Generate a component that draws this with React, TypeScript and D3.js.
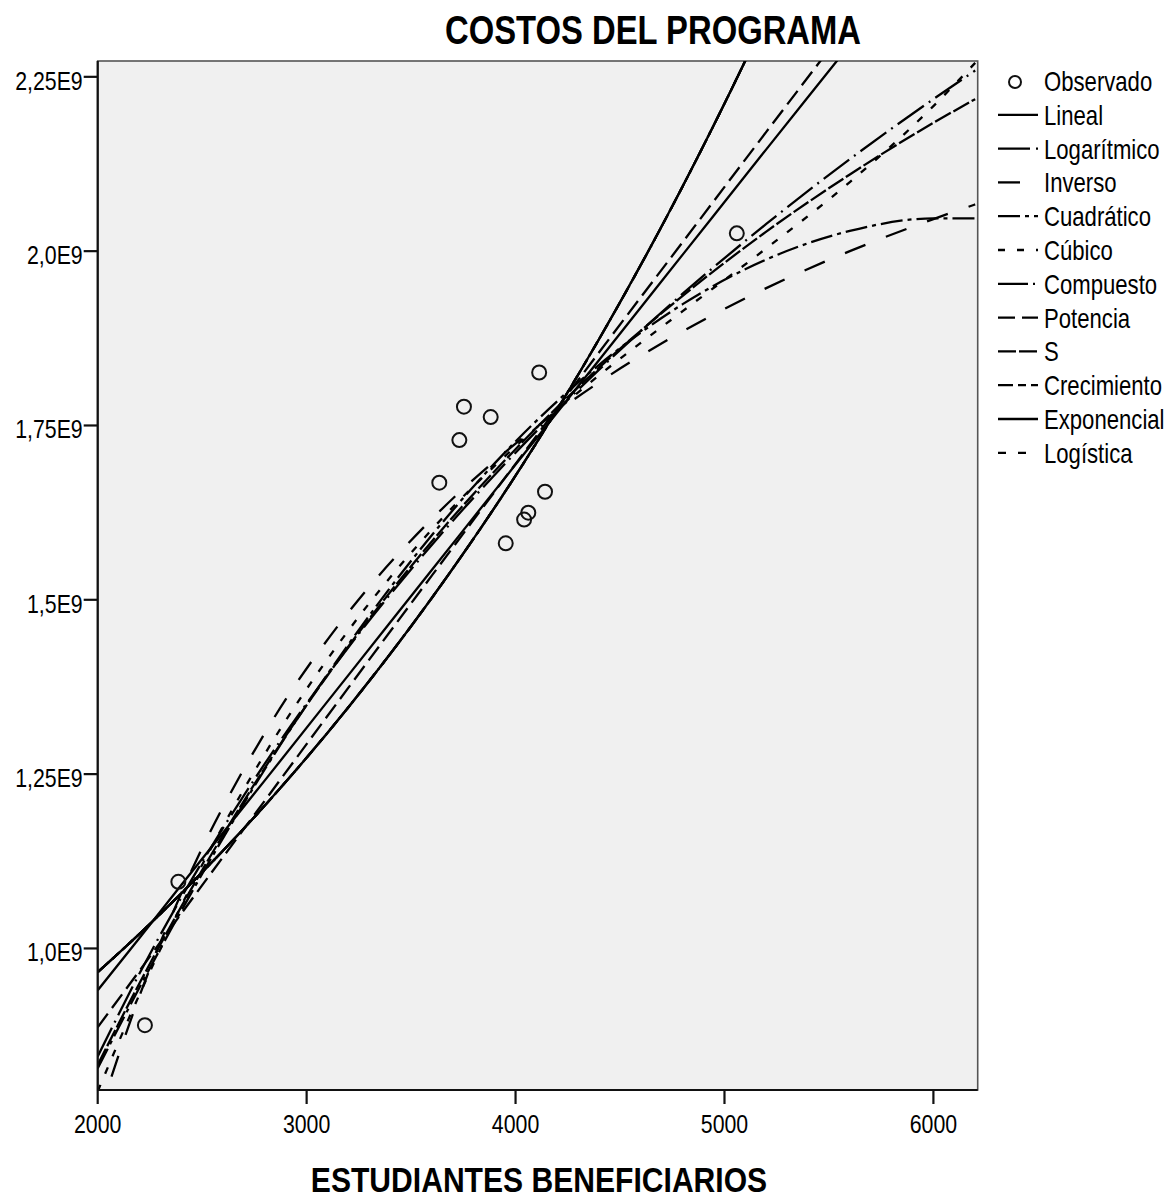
import React from 'react';
import * as d3 from 'd3';

// ---- data (values in units of 1E9 for the y axis) ----
const xTicks = [2000, 3000, 4000, 5000, 6000];
const yTicks = [1.0, 1.25, 1.5, 1.75, 2.0, 2.25];
const yTickLabels = ['1,0E9', '1,25E9', '1,5E9', '1,75E9', '2,0E9', '2,25E9'];

const observedX = [2226, 2386, 3635, 3731, 3753, 3881, 3953, 4041, 4061, 4113, 4141, 5059];
const observedY = [0.890, 1.0955, 1.668, 1.729, 1.777, 1.762, 1.581, 1.615, 1.625, 1.826, 1.655, 2.0255];

// fitted curves, read at these x positions
const fitX = [2000, 2200, 2400, 2800, 3200, 3600, 4000, 4400, 4800, 5200, 5600, 6000, 6200];
const linealY = [0.940, 1.015, 1.091, 1.241, 1.392, 1.543, 1.694, 1.844, 1.995, 2.146, 2.296, 2.447, 2.523];
const logaritmicoY = [0.845, 0.964, 1.073, 1.265, 1.432, 1.579, 1.711, 1.830, 1.939, 2.039, 2.132, 2.218, 2.259];
const inversoY = [0.756, 0.932, 1.079, 1.309, 1.482, 1.616, 1.724, 1.812, 1.885, 1.947, 2.000, 2.046, 2.067];
const cuadraticoY = [0.828, 0.944, 1.054, 1.257, 1.436, 1.593, 1.727, 1.837, 1.924, 1.988, 2.029, 2.047, 2.047];
const cubicoY = [0.795, 0.934, 1.061, 1.279, 1.456, 1.601, 1.720, 1.822, 1.914, 2.004, 2.099, 2.208, 2.270];
const potenciaY = [0.887, 0.968, 1.050, 1.212, 1.374, 1.535, 1.695, 1.855, 2.013, 2.171, 2.328, 2.484, 2.562];
const sY = [0.833, 0.950, 1.060, 1.259, 1.433, 1.584, 1.716, 1.833, 1.936, 2.028, 2.110, 2.184, 2.218];
// compound, growth, exponential and logistic fits coincide
const exponencialY = [0.966, 1.021, 1.079, 1.205, 1.346, 1.503, 1.678, 1.874, 2.093, 2.337, 2.610, 2.915, 3.080];
const compuestoY = exponencialY;
const crecimientoY = exponencialY;
const logisticaY = exponencialY;

const modelNames = ['Lineal', 'Logarítmico', 'Inverso', 'Cuadrático', 'Cúbico', 'Compuesto', 'Potencia', 'S', 'Crecimiento', 'Exponencial', 'Logística'];
const modelValues = [linealY, logaritmicoY, inversoY, cuadraticoY, cubicoY, compuestoY, potenciaY, sY, crecimientoY, exponencialY, logisticaY];
const modelDash = ['none', '32,6,2,6', '22,22', '22,5,4,5', '7,12', '30,5,2,5', '17,7', '18,3', '15,5,8,5', 'none', '8,12'];

const W = 1170;
const H = 1201;
const plot = { left: 97.7, right: 977.7, top: 61, bottom: 1090 };
const FONT = "'Liberation Sans', Arial, sans-serif";
const NARROW = 0.82;

function Txt(props: {
  x: number;
  y: number;
  size: number;
  anchor?: 'start' | 'middle' | 'end';
  bold?: boolean;
  sx?: number;
  children: React.ReactNode;
}) {
  const sx = props.sx ?? NARROW;
  return (
    <text
      transform={`translate(${props.x},${props.y}) scale(${sx},1)`}
      textAnchor={props.anchor ?? 'start'}
      fontSize={props.size}
      fontWeight={props.bold ? 'bold' : 'normal'}
      fill="#000"
    >
      {props.children}
    </text>
  );
}

export default function App() {
  const x = d3.scaleLinear().domain([2000, 6212]).range([plot.left, plot.right]);
  const y = d3.scaleLinear().domain([0.797, 2.2727]).range([plot.bottom, plot.top]);

  const line = d3
    .line<number>()
    .x((_, i) => x(fitX[i]))
    .y((d) => y(d))
    .curve(d3.curveMonotoneX);

  const legendX0 = 998;
  const legendX1 = 1038;
  const legendTextX = 1044;
  const legendY0 = 81;
  const legendStep = 33.8;

  return (
    <div style={{ position: 'absolute', left: 0, top: 0 }}>
      <svg width={W} height={H} style={{ display: 'block', background: '#fff' }} fontFamily={FONT}>
        <defs>
          <clipPath id="plotClip">
            <rect x={plot.left} y={plot.top} width={plot.right - plot.left} height={plot.bottom - plot.top} />
          </clipPath>
        </defs>
        <rect x={0} y={0} width={W} height={H} fill="#fff" />
        {/* plot background */}
        <rect
          x={plot.left}
          y={plot.top}
          width={plot.right - plot.left}
          height={plot.bottom - plot.top}
          fill="#f0f0f0"
          stroke="#555"
          strokeWidth={1.6}
        />

        {/* fitted curves */}
        <g clipPath="url(#plotClip)" fill="none" stroke="#000" strokeWidth={2.3}>
          {modelValues.map((vals, k) => (
            <path key={modelNames[k]} d={line(vals) || ''} strokeDasharray={modelDash[k]} />
          ))}
        </g>

        {/* observed points */}
        <g fill="none" stroke="#111" strokeWidth={2}>
          {observedX.map((xv, i) => (
            <circle key={i} cx={x(xv)} cy={y(observedY[i])} r={7} />
          ))}
        </g>

        {/* axes */}
        <line x1={plot.left} x2={plot.left} y1={plot.top} y2={plot.bottom} stroke="#111" strokeWidth={2.2} />
        <line x1={plot.left} x2={plot.right} y1={plot.bottom} y2={plot.bottom} stroke="#111" strokeWidth={2.2} />
        {xTicks.map((t) => (
          <g key={t}>
            <line x1={x(t)} x2={x(t)} y1={plot.bottom} y2={plot.bottom + 14} stroke="#111" strokeWidth={2.2} />
            <Txt x={x(t)} y={plot.bottom + 43} size={26} anchor="middle">
              {t}
            </Txt>
          </g>
        ))}
        {yTicks.map((t, i) => (
          <g key={t}>
            <line x1={plot.left - 14} x2={plot.left} y1={y(t)} y2={y(t)} stroke="#111" strokeWidth={2.2} />
            <Txt x={plot.left - 15} y={y(t) + 13} size={26} anchor="end">
              {yTickLabels[i]}
            </Txt>
          </g>
        ))}

        {/* titles */}
        <Txt x={653} y={44} size={40} anchor="middle" bold>
          COSTOS DEL PROGRAMA
        </Txt>
        <Txt x={539} y={1192} size={35} anchor="middle" bold sx={0.86}>
          ESTUDIANTES BENEFICIARIOS
        </Txt>

        {/* legend */}
        <g>
          <circle cx={1015} cy={legendY0 + 1} r={6} fill="none" stroke="#111" strokeWidth={2} />
          <Txt x={legendTextX} y={legendY0 + 10} size={27}>
            Observado
          </Txt>
          {modelNames.map((name, k) => {
            const cy = legendY0 + legendStep * (k + 1);
            return (
              <g key={name}>
                <line
                  x1={legendX0}
                  x2={legendX1}
                  y1={cy}
                  y2={cy}
                  stroke="#000"
                  strokeWidth={2.3}
                  strokeDasharray={modelDash[k]}
                />
                <Txt x={legendTextX} y={cy + 10} size={27}>
                  {name}
                </Txt>
              </g>
            );
          })}
        </g>
      </svg>
    </div>
  );
}
